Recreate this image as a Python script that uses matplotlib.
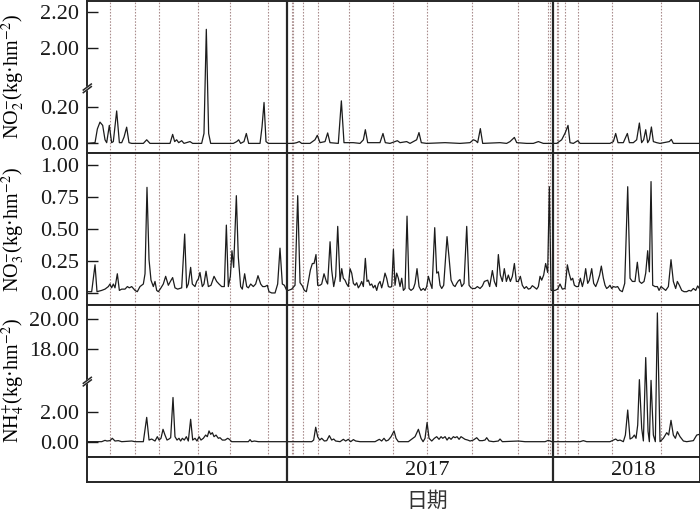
import numpy as np
import matplotlib
matplotlib.use('Agg')
import matplotlib.pyplot as plt
from matplotlib.ticker import FormatStrFormatter, NullLocator

# ---------------- data (day index from start of record) ----------------
year_labels = ['2016', '2017', '2018']
year_starts = [274.4, 639.4]          # day at which 2017 and 2018 begin
x_end = 840

event_days = [31.1, 66.1, 97.7, 152.3, 195.8, 248.3, 280.5, 282.7, 296.4, 315.9,
              359.5, 419.9, 466.1, 528.3, 591.2, 631.7, 634.3, 644.1, 646.3,
              656.1, 672.9, 719.3, 787.2]

no2_day = [0, 10.6, 13.8, 17.4, 21.1, 24.3, 26.6, 30.2, 33.4, 35.7, 40.3, 44.0, 47.2,
           50.4, 54.0, 57.2, 60.9, 76.9, 81.5, 86.0, 113.5, 117.1, 119.9, 122.6, 125.4,
           129.5, 132.7, 140.9, 144.6, 156.9, 160.1, 163.3, 166.5, 169.3, 200.4, 205.0,
           207.7, 210.4, 215.0, 218.2, 221.4, 237.0, 239.7, 242.5, 245.2, 248.4, 282.7,
           287.3, 290.9, 294.1, 305.6, 312.4, 315.6, 319.3, 326.2, 329.8, 333.0, 344.4,
           348.6, 352.2, 365.0, 374.2, 378.8, 381.5, 384.7, 401.6, 405.7, 408.9, 415.3,
           422.2, 425.4, 429.1, 438.2, 442.8, 451.9, 455.1, 458.3, 465.7, 490.8, 511.4,
           525.1, 529.7, 532.9, 535.6, 539.3, 542.5, 566.3, 575.4, 580.0, 586.0, 589.2,
           602.9, 612.0, 618.9, 625.7, 644.0, 650.9, 655.9, 659.6, 662.3, 666.9, 672.9,
           676.1, 717.2, 721.8, 725.0, 728.2, 735.5, 741.0, 743.8, 749.2, 753.8, 757.5,
           760.6, 763.4, 766.2, 768.9, 771.2, 774.0, 776.7, 781.3, 785.8, 798.6, 801.4,
           804.1, 836.2, 840]
no2_val = [0.0, 0.004, 0.08, 0.118, 0.10, 0.02, 0.004, 0.10, 0.004, 0.01, 0.18, 0.004, 0.004,
           0.035, 0.09, 0.004, 0.0, 0.0, 0.02, 0.0, 0.0, 0.05, 0.01, 0.02, 0.004,
           0.015, 0.0, 0.01, 0.0, 0.0, 0.055, 2.104, 0.055, 0.0, 0.0, 0.01,
           0.02, 0.0, 0.01, 0.055, 0.0, 0.0, 0.09, 0.227, 0.01, 0.0, 0.0,
           0.004, 0.01, 0.0, 0.0, 0.02, 0.045, 0.004, 0.01, 0.058, 0.004, 0.0,
           0.236, 0.004, 0.004, 0.0, 0.02, 0.076, 0.004, 0.004, 0.055, 0.004, 0.0,
           0.01, 0.015, 0.004, 0.01, 0.0, 0.02, 0.06, 0.004, 0.0, 0.004, 0.0,
           0.004, 0.02, 0.015, 0.004, 0.082, 0.0, 0.004, 0.0, 0.01, 0.033, 0.004,
           0.0, 0.0, 0.01, 0.0, 0.0, 0.02, 0.06, 0.10, 0.004, 0.0, 0.015,
           0.0, 0.0, 0.01, 0.055, 0.004, 0.004, 0.055, 0.004, 0.004, 0.02, 0.113,
           0.004, 0.02, 0.076, 0.004, 0.02, 0.091, 0.01, 0.004, 0.0, 0.01, 0.022,
           0.0, 0.0, 0.0]

no3_day = [0, 6.0, 10.6, 13.3, 19.7, 24.3, 28.9, 31.1, 33.4, 35.7, 38.0, 41.2, 44.0, 47.2,
           51.7, 55.0, 57.7, 60.9, 65.5, 68.6, 72.3, 76.9, 79.2, 81.9, 84.7, 87.4, 90.6,
           92.9, 95.2, 97.5, 101.1, 104.3, 107.5, 111.2, 114.0, 117.1, 120.3, 124.0, 129.5,
           133.6, 136.3, 138.6, 141.8, 144.1, 147.8, 150.1, 152.4, 154.6, 157.8, 160.1,
           162.9, 166.1, 169.7, 173.9, 177.5, 180.7, 184.4, 188.0, 190.8, 193.5, 196.3,
           198.5, 200.8, 204.5, 207.2, 210.4, 212.7, 215.9, 218.7, 221.0, 224.2, 227.8,
           231.0, 234.2, 237.9, 240.6, 243.8, 247.0, 249.3, 253.0, 257.6, 261.2, 264.4,
           267.6, 270.4, 273.6,
           275.9, 280.4, 285.0, 288.7, 291.9, 295.1, 297.8, 300.6, 303.3, 306.1, 308.8,
           311.1, 313.8, 316.1, 319.3, 321.6, 324.8, 328.0, 329.8, 333.1, 335.3, 338.1,
           340.8, 343.6, 346.8, 349.1, 351.3, 353.6, 355.9, 358.2, 360.5, 362.8, 365.1,
           367.4, 369.6, 371.9, 374.2, 376.5, 378.8, 381.5, 383.8, 385.7, 387.9, 390.2,
           392.5, 394.8, 397.1, 399.4, 401.7, 403.9, 406.2, 408.5, 410.8, 413.1, 415.4,
           417.7, 420.0, 422.2, 424.5, 426.8, 429.1, 431.4, 433.7, 436.0, 438.7, 441.5,
           444.2, 447.4, 449.7, 452.4, 455.2, 457.9, 461.1, 463.4, 465.7, 468.0, 470.7,
           473.0, 476.7, 479.4, 481.7, 484.0, 486.3, 489.0, 493.6, 496.3, 499.1, 502.3,
           504.6, 506.9, 509.2, 511.4, 513.7, 516.9, 520.6, 523.8, 526.5, 528.8, 532.0,
           535.2, 538.9, 542.1, 544.8,
           549.4, 552.1, 555.8, 558.5, 561.3, 564.0, 566.7, 569.5, 572.2, 575.0, 577.7,
           580.5, 583.2, 586.0, 588.7, 591.4, 594.2, 596.9, 599.7, 602.4, 605.2, 607.9,
           610.6, 613.4, 616.6, 618.9, 621.2, 623.5, 626.2, 628.9, 631.7, 634.0, 636.3,
           639.0, 641.8, 645.4, 648.6, 651.8, 655.5, 658.7, 661.0, 663.7, 666.0, 668.3,
           671.0, 673.8, 676.5, 679.3, 681.5, 683.8, 686.6, 688.9, 692.1, 694.8, 697.6,
           700.3, 703.0, 705.3, 708.1, 710.4, 712.6, 714.9, 717.2, 719.5, 721.8, 725.0,
           727.7, 730.9, 734.1, 737.4, 741.5, 744.7, 747.9, 751.5, 754.7, 757.5, 760.5,
           763.9, 766.2, 768.9, 771.2, 773.5, 775.8, 779.0, 782.2, 784.5, 787.2, 790.4,
           793.6, 797.3, 800.9, 804.1, 807.3, 809.6, 812.4, 815.6, 818.8, 822.4, 825.6,
           828.4, 831.6, 834.8, 837.5, 839.8]
no3_val = [0.01, 0.01, 0.22, 0.01, 0.02, 0.03, 0.05, 0.07, 0.04, 0.07, 0.04, 0.15, 0.02, 0.03,
           0.03, 0.05, 0.04, 0.05, 0.02, 0.01, 0.05, 0.07, 0.15, 0.825, 0.26, 0.10, 0.05,
           0.09, 0.02, 0.01, 0.04, 0.07, 0.13, 0.06, 0.09, 0.12, 0.04, 0.03, 0.04,
           0.46, 0.04, 0.07, 0.20, 0.07, 0.05, 0.09, 0.11, 0.16, 0.05, 0.07,
           0.17, 0.05, 0.06, 0.13, 0.09, 0.07, 0.05, 0.05, 0.53, 0.05, 0.13,
           0.33, 0.20, 0.76, 0.28, 0.05, 0.03, 0.15, 0.05, 0.04, 0.07, 0.05,
           0.07, 0.135, 0.07, 0.05, 0.05, 0.06, 0.01, 0.00, 0.00, 0.07, 0.35,
           0.07, 0.06, 0.02,
           0.02, 0.03, 0.06, 0.76, 0.08, 0.055, 0.02, 0.01, 0.09, 0.18, 0.23,
           0.23, 0.30, 0.06, 0.06, 0.07, 0.15, 0.09, 0.07, 0.40, 0.18, 0.05,
           0.13, 0.52, 0.09, 0.19, 0.115, 0.10, 0.07, 0.05, 0.19, 0.155, 0.075,
           0.06, 0.08, 0.04, 0.06, 0.09, 0.05, 0.27, 0.09, 0.10, 0.06, 0.07,
           0.04, 0.06, 0.02, 0.07, 0.09, 0.04, 0.09, 0.155, 0.115, 0.05, 0.045,
           0.05, 0.34, 0.06, 0.155, 0.115, 0.05, 0.115, 0.02, 0.035, 0.60, 0.035,
           0.02, 0.035, 0.075, 0.19, 0.05, 0.02, 0.035, 0.02, 0.05, 0.13, 0.075,
           0.035, 0.51, 0.155, 0.165, 0.06, 0.035, 0.06, 0.44, 0.28, 0.10, 0.06,
           0.05, 0.075, 0.095, 0.105, 0.05, 0.075, 0.52, 0.06, 0.04, 0.035, 0.035,
           0.05, 0.035, 0.055, 0.09,
           0.10, 0.05, 0.175, 0.09, 0.05, 0.30, 0.14, 0.09, 0.19, 0.09, 0.14,
           0.09, 0.13, 0.23, 0.09, 0.09, 0.13, 0.06, 0.035, 0.05, 0.03, 0.035,
           0.057, 0.045, 0.03, 0.05, 0.13, 0.10, 0.14, 0.23, 0.16, 0.83, 0.02,
           0.02, 0.02, 0.03, 0.07, 0.03, 0.035, 0.22, 0.155, 0.10, 0.115, 0.06,
           0.05, 0.05, 0.115, 0.05, 0.10, 0.19, 0.075, 0.10, 0.19, 0.075, 0.05,
           0.09, 0.14, 0.21, 0.115, 0.06, 0.035, 0.045, 0.06, 0.035, 0.05, 0.045,
           0.05, 0.02, 0.01, 0.075, 0.83, 0.115, 0.09, 0.09, 0.24, 0.09, 0.075,
           0.09, 0.155, 0.33, 0.165, 0.87, 0.06, 0.05, 0.05, 0.02, 0.05, 0.035,
           0.02, 0.05, 0.26, 0.09, 0.035, 0.09, 0.06, 0.02, 0.01, 0.01, 0.02,
           0.015, 0.035, 0.02, 0.055, 0.035]

nh4_day = [0, 19.7, 24.3, 27.0, 31.1, 34.3, 38.0, 42.6, 47.2, 60.9, 65.5, 76.9, 81.5, 84.7,
           88.3, 92.9, 96.1, 98.4, 101.1, 103.9, 106.6, 109.4, 112.1, 114.4, 117.6, 120.3,
           123.1, 125.8, 128.1, 130.4, 133.1, 135.9, 138.6, 141.8, 144.6, 147.8, 150.5,
           153.3, 156.0, 159.2, 162.4, 164.7, 167.0, 169.3, 171.6, 173.9, 176.6, 179.8,
           182.1, 185.3, 189.0, 192.6, 194.9, 198.1, 221.0, 223.3, 225.5, 229.2, 234.7,
           307.9, 310.6, 313.4, 316.1, 318.9, 321.6, 325.3, 328.5, 332.1, 335.3, 338.1,
           340.8, 346.8, 351.3, 354.5, 358.2, 361.4, 365.1, 368.3, 374.2, 394.8, 400.7,
           403.9, 407.1, 409.9, 413.1, 416.8, 420.9, 423.6, 426.8, 440.5, 449.7, 454.3,
           457.9, 460.7, 463.4, 466.2, 468.9, 472.6, 476.2, 479.4, 482.6, 485.4, 487.7,
           490.9, 493.6, 496.3, 499.1, 502.3, 504.6, 507.3, 510.1, 512.8, 516.0, 518.3,
           522.0, 525.2, 529.7, 534.3, 538.0, 542.1, 545.7, 548.0, 551.2, 557.2, 564.0,
           566.3, 569.5, 591.5, 600.6, 628.1, 632.6, 637.2, 676.1, 680.6, 685.2, 717.2,
           721.8, 725.0, 727.8, 731.0, 735.5, 738.3, 741.5, 744.7, 747.9, 750.6, 752.9,
           755.2, 757.5, 760.7, 763.0, 766.2, 769.4, 771.2, 773.5, 776.7, 779.4, 782.2,
           785.8, 790.4, 795.0, 797.7, 800.9, 804.1, 806.9, 809.6, 813.3, 817.9, 822.4,
           831.6, 836.2, 840]
nh4_val = [0.0, 0.0, 0.09, 0.045, 0.07, 0.23, 0.045, 0.07, 0.0, 0.045, 0.0, 0.0, 1.65, 0.11,
           0.18, 0.045, 0.34, 0.11, 0.23, 0.84, 0.45, 0.11, 0.18, 0.27, 3.0, 0.34,
           0.11, 0.23, 0.045, 0.23, 0.11, 0.34, 0.045, 1.52, 0.11, 0.23, 0.045,
           0.34, 0.11, 0.23, 0.45, 0.34, 0.73, 0.50, 0.61, 0.34, 0.45, 0.23,
           0.27, 0.11, 0.11, 0.23, 0.16, 0.0, 0.0, 0.14, 0.0, 0.045, 0.0,
           0.0, 0.11, 0.98, 0.34, 0.11, 0.23, 0.045, 0.07, 0.41, 0.11, 0.18,
           0.045, 0.0, 0.16, 0.045, 0.16, 0.0, 0.14, 0.045, 0.0, 0.0, 0.16,
           0.045, 0.23, 0.045, 0.11, 0.34, 0.73, 0.23, 0.0, 0.0, 0.34, 0.84,
           0.23, 0.0, 0.23, 1.3, 0.23, 0.045, 0.23, 0.34, 0.16, 0.34, 0.23,
           0.34, 0.11, 0.29, 0.16, 0.34, 0.27, 0.34, 0.16, 0.34, 0.23, 0.16,
           0.11, 0.045, 0.11, 0.27, 0.07, 0.07, 0.11, 0.27, 0.045, 0.0, 0.045,
           0.18, 0.0, 0.045, 0.0, 0.0, 0.09, 0.0, 0.0, 0.07, 0.0, 0.0,
           0.11, 0.18, 0.07, 0.11, 0.0, 0.45, 2.15, 0.18, 0.27, 0.45, 0.23,
           1.13, 15.9, 0.9, 0.05, 17.4, 0.7, 0.0, 15.85, 0.45, 0.0, 20.43,
           0.0, 0.23, 0.61, 0.45, 1.45, 0.45, 0.23, 0.68, 0.34, 0.045, 0.0,
           0.07, 0.45, 0.5]

# ---------------- figure ----------------
plt.rcParams['font.family'] = ['Liberation Serif', 'DejaVu Serif']
plt.rcParams['mathtext.fontset'] = 'stix'

W, H = 700, 512
fig = plt.figure(figsize=(W / 100, H / 100), dpi=100)
L, R = 87.3 / W, 699.5 / W
SPINE = '#262626'
LINE = '#1c1c1c'
EVENT = '#a98c8c'
TICK_FS = 16
LABEL_FS = 14.5


def add_panel(top_px, bot_px):
    return fig.add_axes([L, 1 - bot_px / H, R - L, (bot_px - top_px) / H])


def broken_scale(a, b, eps=1e-3):
    c = a + (b - a) * eps

    def fwd(v):
        v = np.asarray(v, float)
        return np.where(v <= a, v, np.where(v >= b, c + (v - b), a + (v - a) * eps))

    def inv(u):
        u = np.asarray(u, float)
        return np.where(u <= a, u, np.where(u >= c, b + (u - c), a + (u - a) / eps))
    return fwd, inv


def style(ax):
    for s in ax.spines.values():
        s.set_color(SPINE)
        s.set_linewidth(1.4)
    ax.set_xlim(0, x_end)
    ax.set_xticks([])
    ax.tick_params(axis='y', direction='in', length=8, width=1.0, pad=6,
                   labelsize=TICK_FS, colors='#1a1a1a')
    ax.yaxis.set_minor_locator(NullLocator())
    ax.yaxis.set_major_formatter(FormatStrFormatter('%.2f'))
    for d in event_days:
        ax.axvline(d, color=EVENT, lw=0.8, ls=(0, (1.4, 1.4)), zorder=0.5)
    for d in year_starts:
        ax.axvline(d, color=SPINE, lw=1.6, zorder=3)


def break_mark(ax, a):
    y_disp = ax.transData.transform((0, a))[1]
    y_ax = ax.transAxes.inverted().transform((0, y_disp))[1]
    bb = ax.get_window_extent()
    dx = 4.0 / bb.width
    dy = 3.0 / bb.height
    g = 2.6 / bb.height
    ax.fill([-dx, dx, dx, -dx], [y_ax - dy - g / 2, y_ax + dy - g / 2, y_ax + dy + g / 2, y_ax - dy + g / 2],
            color='white', transform=ax.transAxes, clip_on=False, zorder=5)
    for off in (-g / 2, g / 2):
        ax.plot([-dx, dx], [y_ax - dy + off, y_ax + dy + off], color=SPINE, lw=1.1,
                transform=ax.transAxes, clip_on=False, zorder=6)


LABEL_X = -0.099

# NO2 panel
ax1 = add_panel(0.5, 153.3)
f1, i1 = broken_scale(0.3056, 1.778)
ax1.set_yscale('function', functions=(f1, i1))
ax1.set_ylim(-0.055, 2.264)
ax1.set_yticks([0.0, 0.2, 2.0, 2.2])
style(ax1)
ax1.plot(no2_day, no2_val, color=LINE, lw=0.9, zorder=2)
ax1.set_ylabel('NO$_2^{-}$(kg·hm$^{-2}$)', fontsize=LABEL_FS)
ax1.yaxis.set_label_coords(LABEL_X, 0.5)

# NO3 panel
ax2 = add_panel(153.3, 305)
ax2.set_ylim(-0.094, 1.091)
ax2.set_yticks([0.0, 0.25, 0.5, 0.75, 1.0])
style(ax2)
ax2.plot(no3_day, no3_val, color=LINE, lw=0.9, zorder=2)
ax2.set_ylabel('NO$_3^{-}$(kg·hm$^{-2}$)', fontsize=LABEL_FS)
ax2.yaxis.set_label_coords(LABEL_X, 0.5)

# NH4 panel
ax3 = add_panel(305, 456.7)
f3, i3 = broken_scale(4.08, 15.78)
ax3.set_yscale('function', functions=(f3, i3))
ax3.set_ylim(-1.02, 20.97)
ax3.set_yticks([0.0, 2.0, 18.0, 20.0])
style(ax3)
ax3.plot(nh4_day, nh4_val, color=LINE, lw=0.9, zorder=2)
ax3.set_ylabel('NH$_4^{+}$(kg·hm$^{-2}$)', fontsize=LABEL_FS)
ax3.yaxis.set_label_coords(LABEL_X, 0.5)

break_mark(ax1, 0.3056)
break_mark(ax3, 4.08)

# year band
ax4 = add_panel(456.7, 482.3)
ax4.set_xlim(0, x_end)
ax4.set_ylim(0, 1)
ax4.set_xticks([])
ax4.set_yticks([])
for s in ax4.spines.values():
    s.set_color(SPINE)
    s.set_linewidth(1.4)
for d in year_starts:
    ax4.axvline(d, color=SPINE, lw=1.6)
year_label_x = [148, 466, 749]
for xl, lab in zip(year_label_x, year_labels):
    ax4.text(xl, 0.48, lab, ha='center', va='center', fontsize=TICK_FS, color='#1a1a1a')

fig.text(427 / W, 1 - 501 / H, '日期', family=['Noto Sans CJK SC', 'DejaVu Sans'],
         fontsize=15, ha='center', va='center', color='#333333')

fig.savefig('out.png', dpi=100)
